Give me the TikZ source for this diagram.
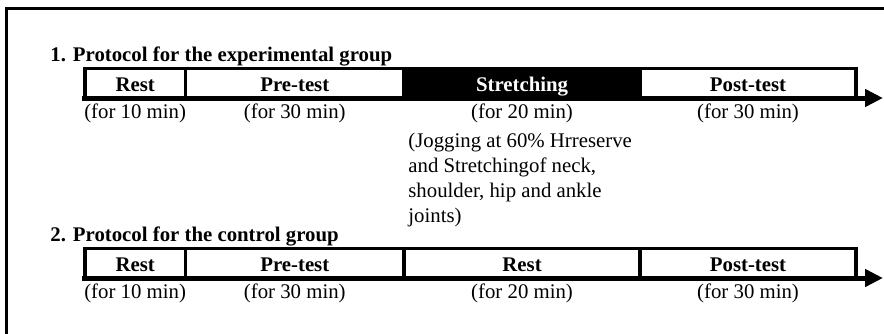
\documentclass[tikz,border=0pt]{standalone}
\usepackage{fontspec}
\setmainfont{Liberation Serif}
\usetikzlibrary{positioning, arrows.meta}
\newcommand\diagfont{\fontsize{10.4}{12.5}\selectfont}
\begin{document}
\begin{tikzpicture}[x=0.5pt, y=0.5pt,
    phase/.style={draw, line width=1.75pt, minimum height=14.75pt, inner sep=0pt, outer sep=0pt,
      text height=8.5pt, text depth=0pt, font=\diagfont\bfseries},
    phaseb/.style={phase, fill=black, text=white},
    title/.style={inner sep=0pt, anchor=base west, font=\diagfont\bfseries},
    dur/.style={inner sep=0pt},
    note/.style={inner sep=0pt, align=left, anchor=north west},
    timeline/.style={line width=2.5pt, line cap=rect, -{Triangle[length=9pt, width=8.5pt]}},
    frame/.style={line width=1.2pt},
    every node/.style={font=\diagfont}]
  \useasboundingbox (0,0) rectangle (884,-333);
  % Marco (recortado a la derecha y abajo)
  \draw[frame] (890,-8.5) -- (6.5,-8.5) -- (6.5,-340);
  % Filas: 1 = grupo experimental, 2 = grupo control
  \foreach \r/\y/\ttl/\mid/\sty in {
      1/0/{1. Protocol for the experimental group}/Stretching/phaseb,
      2/180/{2. Protocol for the control group}/Rest/phase}{
    \node[title] (title\r) at (50,{-61-\y}) {\ttl};
    \node[phase, minimum width=50.4pt, anchor=north west] (rest\r) at (84.75,{-68.5-\y}) {Rest};
    \node[phase, minimum width=109.25pt, right=0pt of rest\r] (pre\r) {Pre-test};
    \node[\sty, minimum width=118pt, right=0pt of pre\r] (mid\r) {\mid};
    \node[phase, minimum width=108pt, right=0pt of mid\r] (post\r) {Post-test};
    % Eje de tiempo
    \coordinate (end\r) at (883,{-98-\y});
    \draw[timeline] (rest\r.south west) -- (end\r);
    % Duraciones
    \foreach \n/\t in {rest/10, pre/30, mid/20, post/30}{
      \node[dur, below=2.8pt of \n\r] (d\n\r) {(for \t\ min)};
    }
  }
  % Detalle del estiramiento
  \node[note] (note) at (408,-133) {(Jogging at 60\% Hrreserve\\and Stretchingof neck,\\shoulder, hip and ankle\\joints)};
\end{tikzpicture}
\end{document}
